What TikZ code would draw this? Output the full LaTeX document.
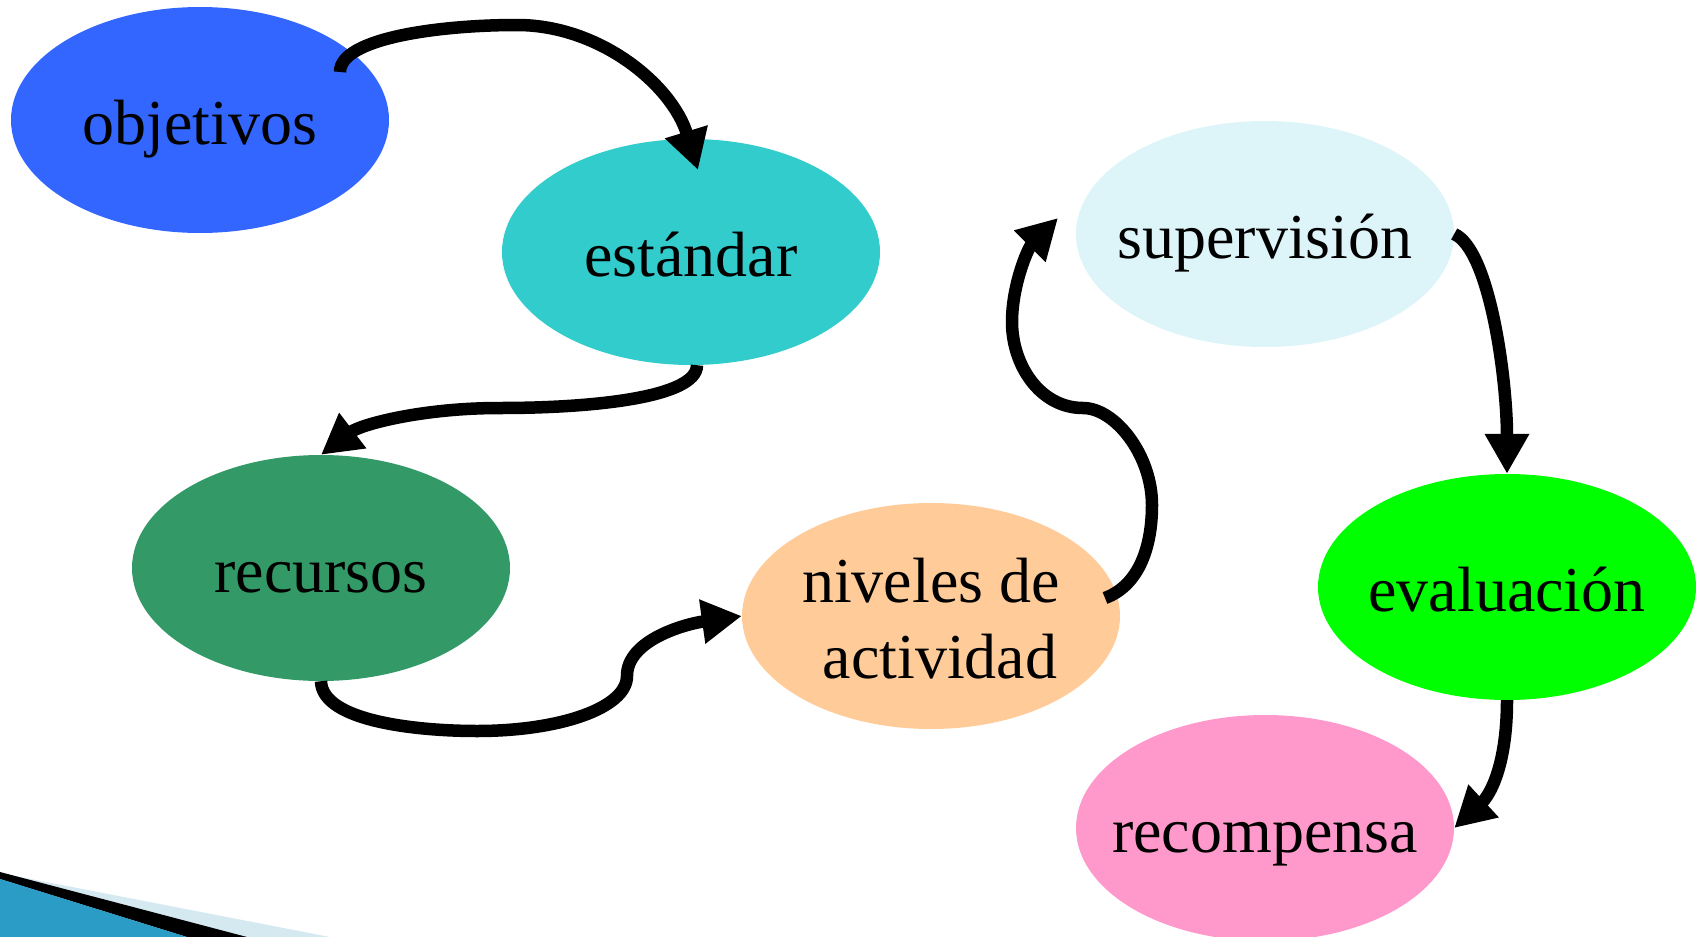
\documentclass[tikz,border=0pt]{standalone}
\usepackage{fontspec}
\setmainfont{Liberation Serif}
\usetikzlibrary{shapes.geometric,arrows.meta}
\definecolor{cobj}{HTML}{3366FF}
\definecolor{cest}{HTML}{33CCCC}
\definecolor{crec}{HTML}{339966}
\definecolor{cniv}{HTML}{FFCC99}
\definecolor{csup}{HTML}{DDF4F9}
\definecolor{ceva}{HTML}{00FF00}
\definecolor{ccom}{HTML}{FF99CC}
\definecolor{cdecl}{HTML}{D5E9F1}
\definecolor{cdecb}{HTML}{2A9CC6}
\newcommand{\blobtext}[1]{\makebox[0pt]{\raisebox{0pt}[58pt][10pt]{#1}}}
\begin{document}
\begin{tikzpicture}[x=1pt,y=-1pt,
  blob/.style={ellipse,minimum width=378pt,minimum height=226pt,inner sep=0pt,
    font=\fontsize{64}{76}\selectfont},
  flow/.style={line width=12.5pt,-{Triangle[length=40pt,width=42pt]}}]
\useasboundingbox (0,0) rectangle (1701,937);
% decoration bottom-left
\fill[cdecl] (0,873) -- (330,937) -- (0,937) -- cycle;
\fill[black] (0,872) -- (247,937) -- (187,937) -- (0,879) -- cycle;
\fill[cdecb] (0,879) -- (187,937) -- (0,937) -- cycle;
% nodes
\node[blob,fill=cobj] (obj) at (200,120) {\blobtext{objetivos}};
\node[blob,fill=cest] (est) at (691,252) {\blobtext{estándar}};
\node[blob,fill=crec] (rec) at (321,568) {\blobtext{recursos}};
\node[blob,fill=cniv] (niv) at (931,616) {\makebox[0pt]{\raisebox{0pt}[58pt][86pt]{\begin{tabular}[t]{@{}c@{}}niveles de\\\hspace*{18pt}actividad\end{tabular}}}};
\node[blob,fill=csup] (sup) at (1265,234) {\blobtext{supervisión}};
\node[blob,fill=ceva] (eva) at (1507,587) {\blobtext{evaluación}};
\node[blob,fill=ccom] (com) at (1265,828) {\blobtext{recompensa}};
% connectors
\draw[flow] ([shift={(140,-48)}]obj.center) .. controls (340,38) and (440,25) .. (517,25)
  .. controls (600,25) and (672,85) .. ([shift={(7,-82)}]est.center);
\draw[flow] ([shift={(6,0)}]est.south) .. controls (697,398) and (590,408) .. (500,408)
  .. controls (420,408) and (360,425) .. (rec.north);
\draw[flow] (rec.south) .. controls (322,722) and (420,731) .. (477,731)
  .. controls (560,731) and (627,708) .. (627,676)
  .. controls (627,640) and (685,624) .. (niv.west);
\draw[flow] ([shift={(174,-18)}]niv.center) .. controls (1140,585) and (1152,545) .. (1152,505)
  .. controls (1152,455) and (1115,408) .. (1083,408)
  .. controls (1040,408) and (1012,365) .. (1012,322)
  .. controls (1012,285) and (1028,248) .. ([shift={(-207,-16)}]sup.center);
\draw[flow] (sup.east) .. controls (1490,250) and (1507,380) .. (eva.north);
\draw[flow] (eva.south) .. controls (1507,765) and (1490,795) .. (com.east);
\end{tikzpicture}
\end{document}
